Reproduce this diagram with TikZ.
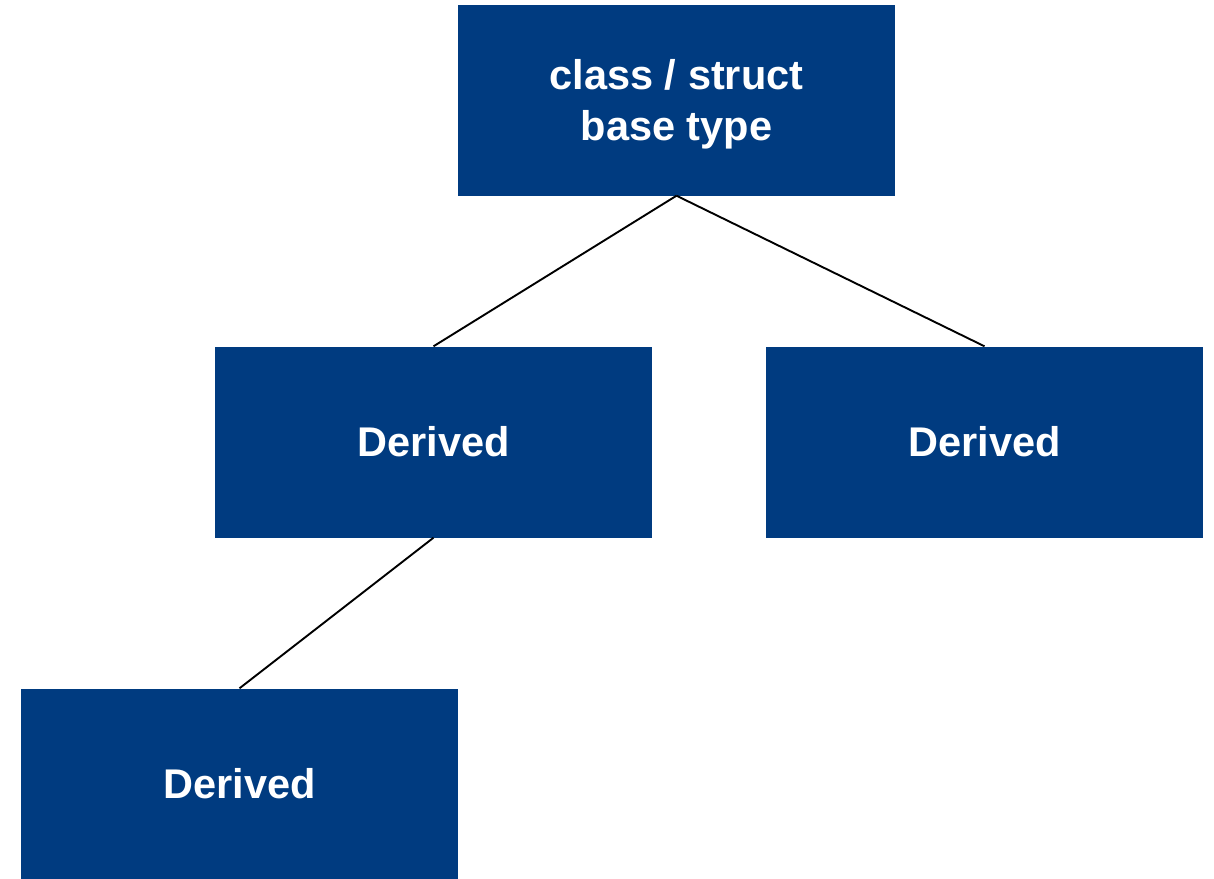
\documentclass[tikz,border=0pt]{standalone}
\usepackage{fontspec}
\setmainfont{Liberation Sans}
\definecolor{boxblue}{RGB}{0,59,128}
\begin{document}
\begin{tikzpicture}[x=1pt,y=-1pt,
  classbox/.style={fill=boxblue, draw=none, minimum width=437pt, minimum height=191pt,
    inner sep=0pt, text=white, font=\fontsize{41.5}{51}\selectfont\bfseries, align=center},
  link/.style={draw=black, line width=1.9pt}]
\useasboundingbox (0,0) rectangle (1214,878);
\node[classbox] (base) at (676.5,100) {\raisebox{-5pt}[\height][\depth]{\begin{tabular}{@{}c@{}}class / struct\\base type\end{tabular}}};
\node[classbox] (d1) at (433.5,442) {Derived};
\node[classbox] (d2) at (984.5,442) {Derived};
\node[classbox] (d3) at (239.5,784) {Derived};
\draw[link] (base.south) -- (d1.north);
\draw[link] (base.south) -- (d2.north);
\draw[link] (d1.south) -- (d3.north);
\end{tikzpicture}
\end{document}
